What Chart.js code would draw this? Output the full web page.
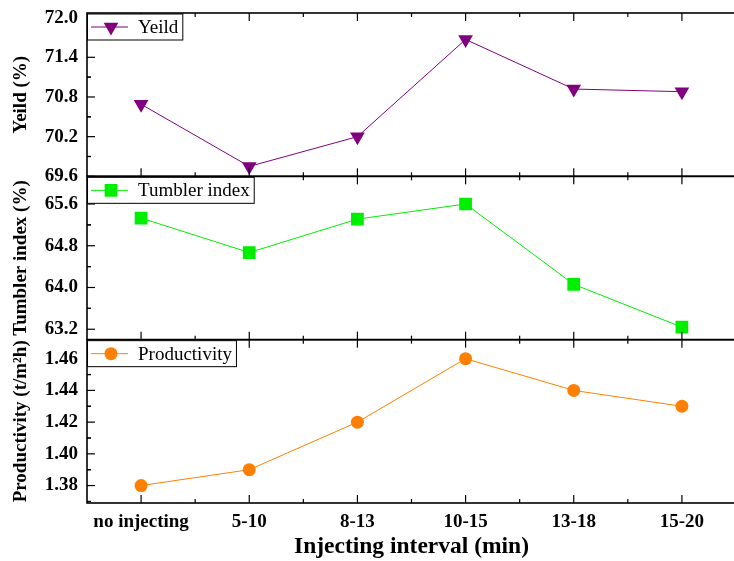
<!DOCTYPE html>
<html>
<head>
<meta charset="utf-8">
<script src="https://cdn.jsdelivr.net/npm/chart.js@4/dist/chart.umd.min.js"></script>
<style>
  html, body { margin: 0; padding: 0; background: #fff; overflow: hidden; }
  #wrap { width: 734px; height: 561px; overflow: hidden; }
</style>
</head>
<body>
<div id="wrap"><canvas id="chart" width="745" height="561"></canvas></div>
<script>
// Data
const categories = [ 'no injecting', '5-10', '8-13', '10-15', '13-18', '15-20' ];
const yieldValues = [ 70.69, 69.75, 70.2, 71.67, 70.92, 70.88 ];
const tumblerValues = [ 65.33, 64.67, 65.31, 65.6, 64.06, 63.24 ];
const productivityValues = [ 1.38, 1.39, 1.42, 1.46, 1.44, 1.43 ];

const yieldTicks = [ 69.6, 70.2, 70.8, 71.4, 72.0 ];
const tumblerTicks = [ 63.2, 64.0, 64.8, 65.6 ];
const productivityTicks = [ 1.38, 1.40, 1.42, 1.44, 1.46 ];

const SERIF = "'Liberation Serif', 'Times New Roman', serif";
const boldFont = { family: SERIF, size: 19, weight: 'bold' };

const panels = [
	{ id: 'y1', label: 'Yeild', color: '#800080', style: 'triangle', rotation: 180, radius: 8.5 },
	{ id: 'y2', label: 'Tumbler index', color: '#00ee00', style: 'rect', rotation: 0, radius: 9 },
	{ id: 'y3', label: 'Productivity', color: '#ff8000', style: 'circle', rotation: 0, radius: 6.5 },
];

// Frames, inward ticks, minor ticks
const panelFrame = {
	id: 'panelFrame',
	afterDatasetsDraw( chart ) {
		const { ctx, chartArea, scales } = chart;
		const x = scales.x;
		const line = ( x1, y1, x2, y2 ) => {
			ctx.beginPath();
			ctx.moveTo( x1, y1 );
			ctx.lineTo( x2, y2 );
			ctx.stroke();
		};
		ctx.save();
		ctx.strokeStyle = '#000';
		panels.forEach( ( p ) => {
			const s = scales[ p.id ];
			const top = s.top;
			const bottom = s.bottom;
			const left = chartArea.left;
			ctx.lineWidth = 1.2;
			const n = x.ticks.length;
			for ( let i = 0; i < n; i++ ) {
				const px = x.getPixelForTick( i );
				line( px, bottom, px, bottom - 8 );
				line( px, top, px, top + 8 );
				if ( i < n - 1 ) {
					const mx = ( px + x.getPixelForTick( i + 1 ) ) / 2;
					line( mx, bottom, mx, bottom - 4 );
					line( mx, top, mx, top + 4 );
				}
			}
			const step = s.ticks[ 1 ].value - s.ticks[ 0 ].value;
			s.ticks.forEach( ( t ) => {
				const py = s.getPixelForValue( t.value );
				line( left, py, left + 8, py );
				[ t.value - step / 2, t.value + step / 2 ].forEach( ( m ) => {
					if ( m > s.min && m < s.max ) {
						const my = s.getPixelForValue( m );
						line( left, my, left + 4, my );
					}
				} );
			} );
			ctx.lineWidth = 1.6;
			ctx.strokeRect( left, top, chartArea.right - left, bottom - top );
		} );
		ctx.restore();
	},
};

// One boxed legend per panel
const panelLegend = {
	id: 'panelLegend',
	afterDraw( chart ) {
		const { ctx, chartArea, scales } = chart;
		ctx.save();
		ctx.font = `19px ${ SERIF }`;
		panels.forEach( ( p ) => {
			const s = scales[ p.id ];
			const left = chartArea.left;
			const top = s.top + 1;
			const h = 26;
			const textX = left + 51;
			const w = textX - left + ctx.measureText( p.label ).width + 4;
			ctx.fillStyle = '#fff';
			ctx.fillRect( left, top, w, h );
			ctx.strokeStyle = '#000';
			ctx.lineWidth = 1;
			ctx.strokeRect( left + 0.5, top, w, h );
			const cy = top + h / 2;
			ctx.strokeStyle = p.color;
			ctx.lineWidth = 1;
			ctx.beginPath();
			ctx.moveTo( left + 4, cy );
			ctx.lineTo( left + 41, cy );
			ctx.stroke();
			ctx.fillStyle = p.color;
			Chart.helpers.drawPoint( ctx, { pointStyle: p.style, radius: p.radius, rotation: p.rotation, borderWidth: 0 }, left + 24, cy );
			ctx.fillStyle = '#000';
			ctx.textBaseline = 'middle';
			ctx.fillText( p.label, textX, cy + 1 );
		} );
		ctx.restore();
	},
};

const yScale = ( ticks, min, max, digits, title ) => ( {
	type: 'linear',
	position: 'left',
	stack: 'panels',
	stackWeight: 1,
	min: min,
	max: max,
	grid: { display: false, drawTicks: false },
	border: { display: false },
	afterBuildTicks: ( s ) => {
		s.ticks = ticks.map( ( v ) => ( { value: v } ) );
	},
	afterFit: ( s ) => {
		s.width = 87;
		s.paddingTop = 0;
		s.paddingBottom = 0;
	},
	ticks: {
		color: '#000',
		font: boldFont,
		padding: 9,
		autoSkip: false,
		callback: ( v ) => Number( v ).toFixed( digits ),
	},
	title: {
		display: true,
		text: title,
		color: '#000',
		font: boldFont,
		padding: { top: 10, bottom: 0 },
	},
} );

const dataset = ( p, values ) => ( {
	label: p.label,
	data: values,
	yAxisID: p.id,
	borderColor: p.color,
	backgroundColor: p.color,
	borderWidth: 1,
	pointStyle: p.style,
	pointRotation: p.rotation,
	pointRadius: p.radius,
	pointBorderWidth: 0,
	tension: 0,
} );

new Chart( document.getElementById( 'chart' ), {
	type: 'line',
	data: {
		labels: categories,
		datasets: [
			dataset( panels[ 0 ], yieldValues ),
			dataset( panels[ 1 ], tumblerValues ),
			dataset( panels[ 2 ], productivityValues ),
		],
	},
	options: {
		responsive: false,
		animation: false,
		devicePixelRatio: 1,
		layout: { padding: { top: 13, right: 1, left: 0, bottom: 0 } },
		plugins: { legend: { display: false }, tooltip: { enabled: false } },
		scales: {
			x: {
				type: 'category',
				offset: true,
				grid: { display: false, drawTicks: false },
				border: { display: false },
				afterFit: ( s ) => {
					s.height = 58;
				},
				ticks: { color: '#000', font: boldFont, padding: 8, maxRotation: 0, autoSkip: false },
				title: {
					display: true,
					text: 'Injecting interval (min)',
					color: '#000',
					font: { family: SERIF, size: 23.5, weight: 'bold' },
					padding: { top: 0, bottom: 0 },
				},
			},
			// stacked scales are placed bottom-up in definition order
			y3: yScale( productivityTicks, 1.369, 1.472, 2, 'Productivity (t/m²h)' ),
			y2: yScale( tumblerTicks, 63.0, 66.13, 1, 'Tumbler index (%)' ),
			y1: yScale( yieldTicks, 69.6, 72.07, 1, 'Yeild (%)' ),
		},
	},
	plugins: [ panelFrame, panelLegend ],
} );
</script>
</body>
</html>
